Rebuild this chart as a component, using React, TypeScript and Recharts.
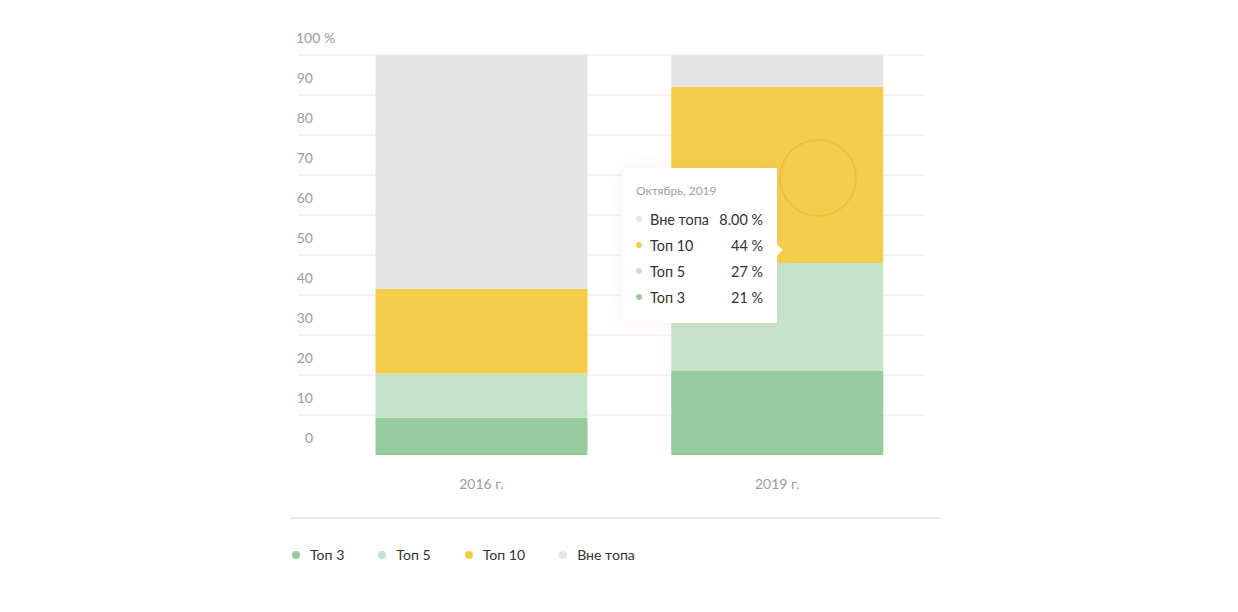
import { BarChart, Bar, XAxis, YAxis, CartesianGrid, Tooltip, ReferenceDot } from "recharts";

const years = ["2016 г.", "2019 г."];
const tooltipTitles = ["Октябрь, 2016", "Октябрь, 2019"];
const top3 = [9.3, 21];
const top5 = [11.1, 27];
const top10 = [21.1, 44];
const outside = [58.5, 8];
const yTicks = [0, 10, 20, 30, 40, 50, 60, 70, 80, 90, 100];

const series = [
  { key: "top3", name: "Топ 3", color: "#96cb9d" },
  { key: "top5", name: "Топ 5", color: "#c6e4c9" },
  { key: "top10", name: "Топ 10", color: "#f4ce4a" },
  { key: "outside", name: "Вне топа", color: "#e4e4e4" },
];

const data = years.map((year, i) => ({
  year,
  title: tooltipTitles[i],
  top3: top3[i],
  top5: top5[i],
  top10: top10[i],
  outside: outside[i],
}));

const FONT = "Lato, 'Open Sans', sans-serif";

const YTick = (props: any) => {
  const { y, payload } = props;
  const v = payload.value;
  if (v === 100) {
    return (
      <text x={296} y={y - 16} dominantBaseline="middle" fill="#9b9b9b" fontSize={14} fontFamily={FONT}>
        100 %
      </text>
    );
  }
  return (
    <text x={313} y={y - 16} textAnchor="end" dominantBaseline="middle" fill="#9b9b9b" fontSize={14} fontFamily={FONT}>
      {v}
    </text>
  );
};

const XTick = (props: any) => {
  const { x, y, payload } = props;
  return (
    <text x={x} y={y + 30} textAnchor="middle" dominantBaseline="middle" fill="#9b9b9b" fontSize={14} fontFamily={FONT}>
      {payload.value}
    </text>
  );
};

const TooltipBox = ({ active, payload }: any) => {
  if (!active || !payload || !payload.length) return null;
  const rows = [...payload].reverse();
  const title = payload[0].payload.title;
  return (
    <div
      style={{
        position: "relative",
        width: 155,
        height: 155,
        boxSizing: "border-box",
        background: "#fff",
        boxShadow: "0 0 12px rgba(220,150,150,0.18)",
        padding: "16px 14px 0 14px",
        fontFamily: FONT,
      }}
    >
      <div style={{ fontSize: 12, color: "#a0a0a0", lineHeight: "14px", marginBottom: 8 }}>{title}</div>
      {rows.map((r: any) => {
        const s = series.find((x) => x.key === r.dataKey)!;
        const val = r.dataKey === "outside" ? Number(r.value).toFixed(2) : String(r.value);
        return (
          <div
            key={r.dataKey}
            style={{ display: "flex", alignItems: "center", height: 26, fontSize: 14.4, color: "#333" }}
          >
            <span style={{ width: 6, height: 6, borderRadius: 3, background: s.color, marginRight: 8 }} />
            <span style={{ flex: 1 }}>{s.name}</span>
            <span>{val} %</span>
          </div>
        );
      })}
      <div
        style={{
          position: "absolute",
          right: -4,
          top: 78,
          width: 8,
          height: 8,
          background: "#fff",
          transform: "rotate(45deg)",
        }}
      />
    </div>
  );
};

const HoverRing = (props: any) => {
  const { cx, cy } = props;
  return <circle cx={cx + 41} cy={cy} r={38} fill="none" stroke="#f5a548" strokeOpacity={0.55} strokeWidth={1.5} />;
};

export default function App() {
  return (
    <div style={{ position: "absolute", left: 0, top: 0, width: 1238, height: 612, background: "#fff" }}>
      <BarChart
        width={1238}
        height={500}
        data={data}
        margin={{ top: 55, right: 313, bottom: 0, left: 258 }}
        barSize={212}
      >
        <CartesianGrid vertical={false} stroke="#f4e4e4" horizontalValues={[10, 20, 30, 40, 50, 60, 70, 80, 90, 100]} />
        <XAxis
          dataKey="year"
          axisLine={false}
          tickLine={false}
          tickSize={0}
          tickMargin={0}
          height={45}
          padding={{ left: 35.5, right: 0 }}
          tick={<XTick />}
        />
        <YAxis
          domain={[0, 100]}
          ticks={yTicks}
          width={40}
          axisLine={false}
          tickLine={false}
          tick={<YTick />}
        />
        <Tooltip
          content={<TooltipBox />}
          defaultIndex={1}
          active
          cursor={false}
          position={{ x: 622, y: 168 }}
          isAnimationActive={false}
          wrapperStyle={{ outline: "none" }}
        />
        {series.map((s) => (
          <Bar key={s.key} dataKey={s.key} name={s.name} stackId="a" fill={s.color} isAnimationActive={false} />
        ))}
        <ReferenceDot x="2019 г." y={69.25} r={38} shape={<HoverRing />} ifOverflow="visible" />
      </BarChart>
      <div
        style={{
          position: "absolute",
          left: 291,
          top: 517,
          width: 649,
          borderTop: "2px solid #e6e6e6",
          display: "flex",
          alignItems: "center",
          paddingTop: 27,
          fontFamily: FONT,
          fontSize: 14.1,
          color: "#333",
        }}
      >
        {series.map((s) => (
          <div key={s.key} style={{ display: "flex", alignItems: "center", marginRight: 33 }}>
            <span
              style={{
                width: 8,
                height: 8,
                borderRadius: 4,
                background: s.color,
                marginLeft: 1,
                marginRight: 10,
              }}
            />
            <span>{s.name}</span>
          </div>
        ))}
      </div>
    </div>
  );
}
